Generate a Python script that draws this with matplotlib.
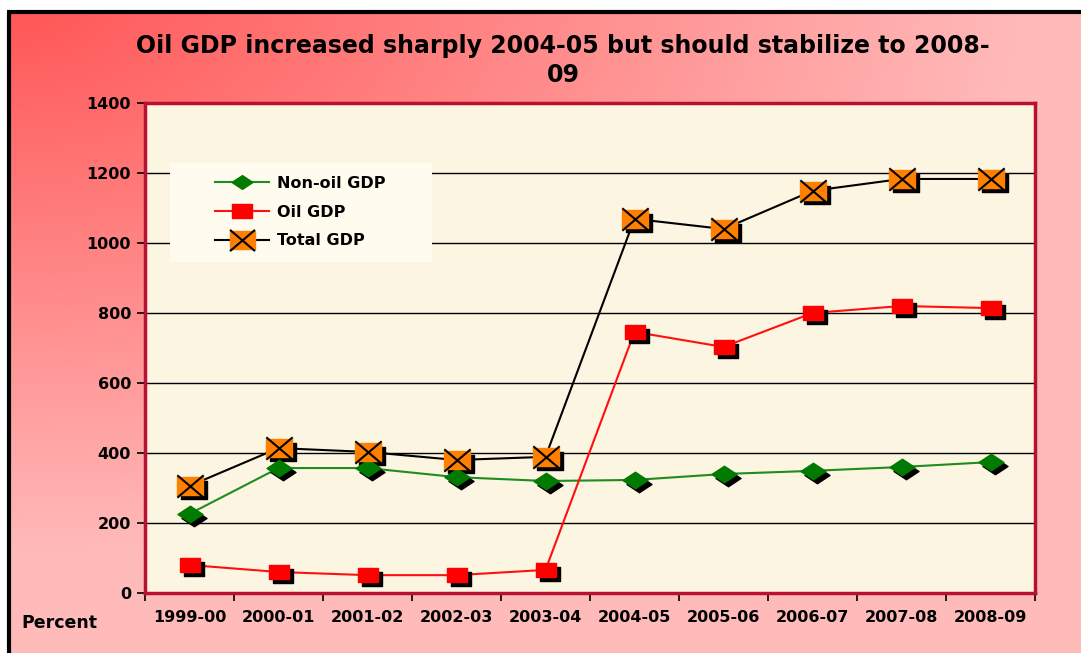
import numpy as np
import matplotlib.pyplot as plt
from matplotlib.lines import Line2D
from matplotlib.patches import Rectangle
from matplotlib.path import Path
from matplotlib import transforms

years = ["1999-00", "2000-01", "2001-02", "2002-03", "2003-04",
         "2004-05", "2005-06", "2006-07", "2007-08", "2008-09"]
non_oil = [226, 357, 357, 331, 320, 323, 340, 349, 360, 374]
oil = [80, 60, 51, 51, 66, 746, 703, 800, 820, 814]
total = [306, 414, 403, 380, 389, 1069, 1040, 1149, 1183, 1183]

plt.rcParams['font.family'] = ['DejaVu Sans']

W, H = 1081, 653
fig = plt.figure(figsize=(W / 100, H / 100), dpi=100)
fig.patch.set_facecolor('white')

# background gradient, red in the top-left corner fading to pink
bg = fig.add_axes([0, 0, 1, 1], zorder=-10)
gx, gy = np.meshgrid(np.linspace(0, 1, 400), np.linspace(0, 1, 250))
t = np.clip(np.sqrt((gx / 0.95) ** 2 + (gy / 0.85) ** 2), 0, 1)
c0 = np.array([255, 85, 85]) / 255
c1 = np.array([255, 186, 186]) / 255
img = c0[None, None, :] * (1 - t[..., None]) + c1[None, None, :] * t[..., None]
bg.imshow(img, extent=[0, 1, 0, 1], aspect='auto', origin='upper')
bg.set_xlim(0, 1)
bg.set_ylim(0, 1)
bg.axis('off')
# white margin + black frame
bg.add_patch(Rectangle((0, 1 - 11 / H), 1, 11 / H, color='white', zorder=5))
bg.add_patch(Rectangle((0, 0), 7 / W, 1, color='white', zorder=5))
bg.plot([8.5 / W, 8.5 / W], [0, 1 - 12 / H], color='black', lw=3, zorder=6,
        solid_capstyle='butt')
bg.plot([7 / W, 1], [1 - 12 / H, 1 - 12 / H], color='black', lw=3, zorder=6,
        solid_capstyle='butt')

ax = fig.add_axes([145 / W, 60 / H, 890 / W, 490 / H])
ax.set_facecolor('#FCF5E1')
x = np.arange(len(years))

# flattened marker shapes
diamond = Path([(-1, 0), (0, 0.66), (1, 0), (0, -0.66), (-1, 0)], closed=True)
rect = Path([(-1, -0.7), (1, -0.7), (1, 0.7), (-1, 0.7), (-1, -0.7)], closed=True)
cross = Path([(-0.8, -0.68), (0.8, 0.68), (-0.8, 0.68), (0.8, -0.68)],
             [Path.MOVETO, Path.LINETO, Path.MOVETO, Path.LINETO])

shadow = transforms.offset_copy(ax.transData, fig=fig, x=4, y=-4, units='dots')

# green non-oil
ax.plot(x, non_oil, color='#1E8C1E', lw=1.5, zorder=3)
ax.plot(x, non_oil, ls='none', marker=diamond, color='black', ms=18, transform=shadow, zorder=3.5)
ax.plot(x, non_oil, ls='none', marker=diamond, color='#007A00', ms=18, mec='#007A00', zorder=4)

# red oil
ax.plot(x, oil, color='#FF1010', lw=1.5, zorder=3)
ax.plot(x, oil, ls='none', marker=rect, color='black', ms=15, transform=shadow, zorder=3.5)
ax.plot(x, oil, ls='none', marker=rect, color='#FF0000', ms=15, mec='#FF0000', zorder=4)

# total
ax.plot(x, total, color='black', lw=1.5, zorder=3)
ax.plot(x, total, ls='none', marker=rect, color='black', ms=19, transform=shadow, zorder=3.5)
ax.plot(x, total, ls='none', marker=rect, color='#FF7F00', ms=19, mec='#FF7F00', zorder=4)
ax.plot(x, total, ls='none', marker=cross, mfc='none', mec='black', ms=19, mew=1.5, zorder=5)

ax.set_xlim(-0.5, len(years) - 0.5)
ax.set_ylim(0, 1400)
ax.set_yticks(np.arange(0, 1401, 200))
ax.yaxis.grid(True, color='black', lw=1)
ax.set_axisbelow(True)

ax.set_xticks(x)
ax.set_xticklabels(years, fontsize=11.5, fontweight='bold')
ax.set_xticks(np.arange(-0.5, len(years), 1), minor=True)
ax.tick_params(axis='x', which='major', length=0, pad=12)
ax.tick_params(axis='x', which='minor', length=6, width=1.2, direction='out')
ax.tick_params(axis='y', length=6, width=1.2, direction='out', labelsize=11.5, pad=4)
for lab in ax.get_yticklabels():
    lab.set_fontweight('bold')

for s in ax.spines.values():
    s.set_color('#B8102E')
    s.set_linewidth(2.5)

# legend: background box drawn separately, entries placed on top
ax.add_patch(Rectangle((25 / 890, 331 / 490), 262 / 890, 99 / 490, transform=ax.transAxes,
                       facecolor='#FFFBEE', edgecolor='none', zorder=1.5))
h_non = Line2D([], [], color='#1E8C1E', lw=1.5, marker=diamond, ms=15, mfc='#007A00', mec='#007A00')
h_oil = Line2D([], [], color='#FF1010', lw=1.5, marker=rect, ms=14, mfc='#FF0000', mec='#FF0000')
h_tot_sq = Line2D([], [], color='black', lw=1.5, marker=rect, ms=18, mfc='#FF7F00', mec='#FF7F00')
h_tot_x = Line2D([], [], ls='none', marker=cross, ms=18, mew=1.5, mfc='none', mec='black')
leg = ax.legend([h_non, h_oil, (h_tot_sq, h_tot_x)], ["Non-oil GDP", "Oil GDP", "Total GDP"],
                loc='upper left', bbox_to_anchor=(70 / 890, 417 / 490), borderaxespad=0,
                frameon=False, handlelength=3.4, labelspacing=0.85, borderpad=0,
                prop={'weight': 'bold', 'size': 11.5}, handletextpad=0.5)
leg.set_zorder(2)

fig.text(563 / W, 1 - 46 / H, "Oil GDP increased sharply 2004-05 but should stabilize to 2008-",
         ha='center', va='center', fontsize=17, fontweight='bold')
fig.text(563 / W, 1 - 75 / H, "09", ha='center', va='center', fontsize=17, fontweight='bold')
fig.text(21 / W, 1 - 623 / H, "Percent", ha='left', va='center', fontsize=12.5, fontweight='bold')

fig.savefig('out.png', dpi=100)
